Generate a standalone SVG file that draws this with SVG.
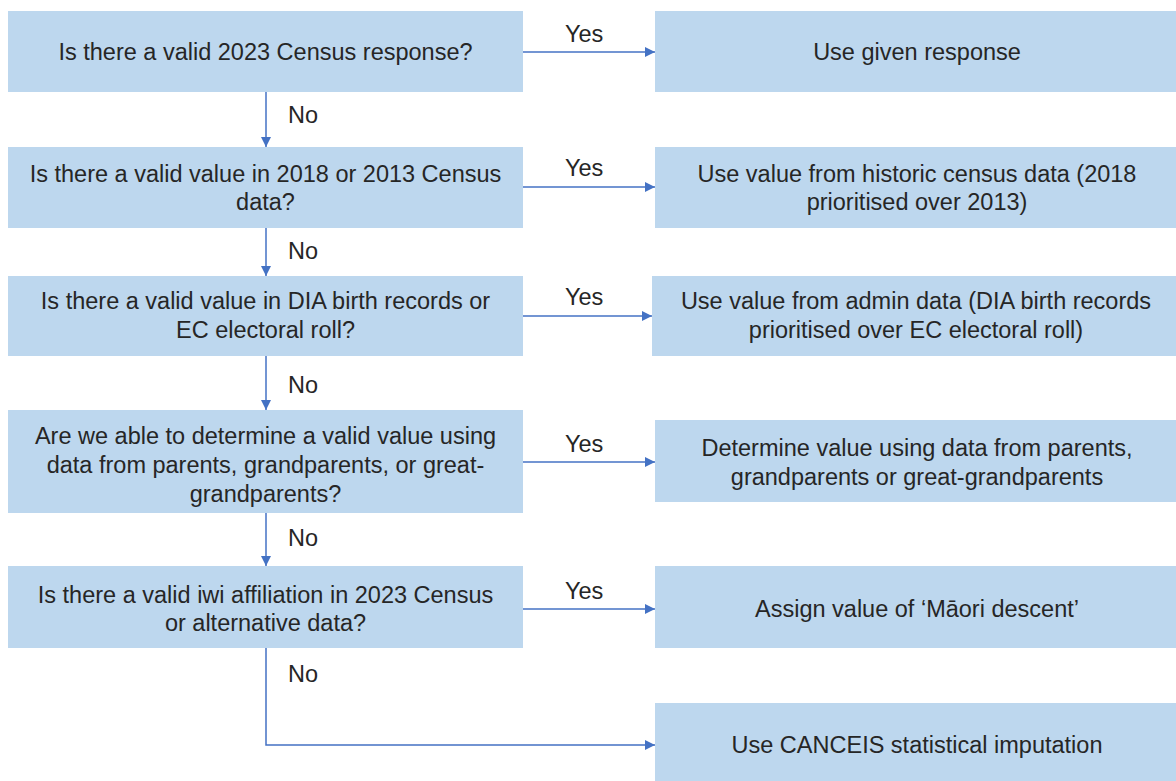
<svg xmlns="http://www.w3.org/2000/svg" width="1176" height="781" viewBox="0 0 1176 781">
<defs>
<style>
.box{fill:#BDD7EE;}
.t{font-family:"Liberation Sans",Arial,sans-serif;font-size:23.5px;fill:#262626;text-anchor:middle;}
.l{font-family:"Liberation Sans",Arial,sans-serif;font-size:23.5px;fill:#262626;}
.c{fill:none;stroke:#4472C4;stroke-width:1.5;}
</style>
<marker id="ah" viewBox="0 0 10 10" refX="10" refY="5" markerWidth="10" markerHeight="10" markerUnits="userSpaceOnUse" orient="auto">
<path d="M0,0 L10,5 L0,10 z" fill="#4472C4"/>
</marker>
</defs>
<rect width="1176" height="781" fill="#FFFFFF"/>
<g id="q1"><rect class="box" x="8" y="11" width="515" height="81"/><text class="t" x="265.5" y="60">Is there a valid 2023 Census response?</text></g>
<g id="a1"><rect class="box" x="655" y="11" width="521" height="81"/><text class="t" x="917" y="60">Use given response</text></g>
<g id="q2"><rect class="box" x="8" y="147" width="515" height="81"/><text class="t" x="265.5" y="182">Is there a valid value in 2018 or 2013 Census</text><text class="t" x="265.5" y="210">data?</text></g>
<g id="a2"><rect class="box" x="655" y="147" width="521" height="81"/><text class="t" x="917" y="182">Use value from historic census data (2018</text><text class="t" x="917" y="210">prioritised over 2013)</text></g>
<g id="q3"><rect class="box" x="8" y="276" width="515" height="80"/><text class="t" x="265.5" y="309">Is there a valid value in DIA birth records or</text><text class="t" x="265.5" y="338">EC electoral roll?</text></g>
<g id="a3"><rect class="box" x="652" y="276" width="524" height="80"/><text class="t" x="916" y="309">Use value from admin data (DIA birth records</text><text class="t" x="916" y="338">prioritised over EC electoral roll)</text></g>
<g id="q4"><rect class="box" x="8" y="410" width="515" height="103"/><text class="t" x="265.5" y="444">Are we able to determine a valid value using</text><text class="t" x="265.5" y="473">data from parents, grandparents, or great-</text><text class="t" x="265.5" y="502">grandparents?</text></g>
<g id="a4"><rect class="box" x="655" y="420" width="521" height="82"/><text class="t" x="917" y="456">Determine value using data from parents,</text><text class="t" x="917" y="485">grandparents or great-grandparents</text></g>
<g id="q5"><rect class="box" x="8" y="566" width="515" height="82"/><text class="t" x="265.5" y="603">Is there a valid iwi affiliation in 2023 Census</text><text class="t" x="265.5" y="631">or alternative data?</text></g>
<g id="a5"><rect class="box" x="655" y="566" width="521" height="82"/><text class="t" x="917" y="617">Assign value of ‘Māori descent’</text></g>
<g id="a6"><rect class="box" x="655" y="703" width="521" height="78"/><text class="t" x="917" y="753">Use CANCEIS statistical imputation</text></g>
<g id="connectors">
<path class="c" d="M523,52 H655" marker-end="url(#ah)"/>
<path class="c" d="M523,187 H655" marker-end="url(#ah)"/>
<path class="c" d="M523,316 H652" marker-end="url(#ah)"/>
<path class="c" d="M523,462 H655" marker-end="url(#ah)"/>
<path class="c" d="M523,609 H655" marker-end="url(#ah)"/>
<path class="c" d="M266,92 V147" marker-end="url(#ah)"/>
<path class="c" d="M266,228 V276" marker-end="url(#ah)"/>
<path class="c" d="M266,356 V410" marker-end="url(#ah)"/>
<path class="c" d="M266,513 V566" marker-end="url(#ah)"/>
<path class="c" d="M266,648 V745 H655" marker-end="url(#ah)"/>
<text class="l" x="565" y="42">Yes</text>
<text class="l" x="565" y="176">Yes</text>
<text class="l" x="565" y="305">Yes</text>
<text class="l" x="565" y="452">Yes</text>
<text class="l" x="565" y="599">Yes</text>
<text class="l" x="288" y="123">No</text>
<text class="l" x="288" y="259">No</text>
<text class="l" x="288" y="393">No</text>
<text class="l" x="288" y="546">No</text>
<text class="l" x="288" y="682">No</text>
</g>
</svg>
